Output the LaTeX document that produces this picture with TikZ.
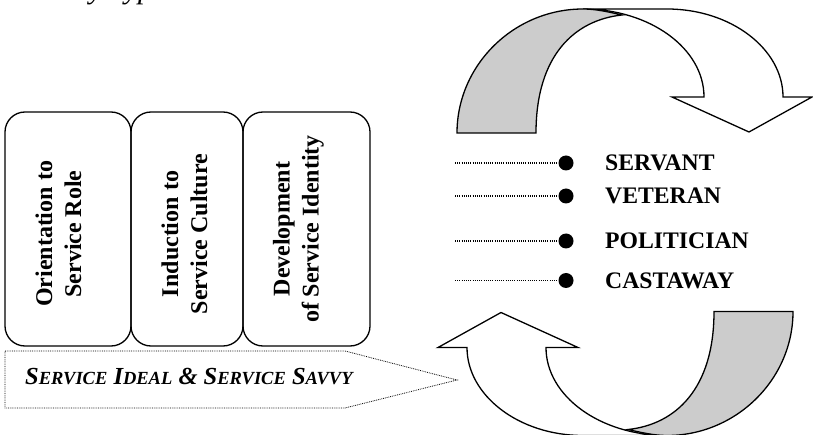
\documentclass[tikz,border=0pt]{standalone}
\usepackage{fontspec}
\setmainfont{Liberation Serif}
\definecolor{arrowgray}{HTML}{CCCCCC}
\newcommand\fakesc[2]{#1{\fontsize{18.5}{20}\selectfont #2}}
\newcommand\bentarrow{%
  \draw[arrowline, fill=white] (-51.5,-61.5) -- (32.5,-61.5)
     .. controls (96.5,-61.5) and (148.5,-21.5) .. (148.5,26.5)
     -- (177.5,26.5) -- (114.5,61.5) -- (37.5,26.5) -- (69.5,26.5)
     .. controls (69.5,-22.1) and (15.3,-61.5) .. cycle;
  \draw[arrowline, fill=arrowgray] (-177.5,62.5)
     .. controls (-177.5,-5.5) and (-120.5,-61.5) .. (-51.5,-61.5)
     .. controls (-38.5,-61.5) and (-25.5,-58.5) .. (-12.5,-55.5)
     .. controls (-59.5,-50.5) and (-98.5,-15.5) .. (-98.5,62.5) -- cycle;
}
\tikzset{
  arrowline/.style={line width=1.3pt, line join=miter},
  stagebox/.style={draw, line width=1.3pt, rounded corners=20pt, minimum height=234pt, inner sep=0pt},
  stagetext/.style={rotate=90, align=center, inner sep=0pt, font=\fontsize{24}{29}\selectfont\bfseries},
  rowdot/.style={circle, fill=black, inner sep=0pt, minimum size=15pt},
  rowline/.style={line width=1.1pt, dash pattern=on 1pt off 1.2pt},
  rowlabel/.style={anchor=base west, inner sep=0pt, font=\fontsize{23.7}{24}\selectfont\bfseries},
  idealline/.style={line width=0.8pt, dash pattern=on 0.8pt off 1pt},
}
\begin{document}
\begin{tikzpicture}[x=1pt,y=-1pt]
\useasboundingbox (0,0) rectangle (813,435);

% partial caption cut off at the top
\node[anchor=base west, inner sep=0pt, font=\fontsize{30}{30}\selectfont\itshape] (cap) at (11,-1.5) {Identity Types};

% stage boxes
\node[stagebox, minimum width=126pt] (b1) at (68,229) {};
\node[stagebox, minimum width=112pt] (b2) at (187,229) {};
\node[stagebox, minimum width=127pt] (b3) at (306.5,229) {};
\node[stagetext] (t1) at (58.5,234) {Orientation to\\Service Role};
\node[stagetext] (t2) at (184.5,234) {Induction to\\Service Culture};
\node[stagetext] (t3) at (298.5,229) {Development\\of Service Identity};

% dotted pentagon arrow
\draw[idealline] (5,351) -- (345,351) -- (457,380) -- (345,408) -- (5,408) -- cycle;
\node[anchor=base west, inner sep=0pt, font=\fontsize{24.5}{26}\selectfont\bfseries\itshape] (ideal) at (25,384)
  {\fakesc{S}{ERVICE} \fakesc{I}{DEAL} \& \fakesc{S}{ERVICE} \fakesc{S}{AVVY}};

% curved arrows
\begin{scope}[shift={(634.5,70.5)}]
  \bentarrow
\end{scope}
\begin{scope}[shift={(615.5,374)}, rotate=180]
  \bentarrow
\end{scope}

% rows
\coordinate (s0) at (455,163);
\coordinate (v0) at (455,196);
\coordinate (p0) at (455,241);
\coordinate (c0) at (455,280.5);
\node[rowdot] (sd) at (566,163) {};
\node[rowdot] (vd) at (566,196) {};
\node[rowdot] (pd) at (566,241) {};
\node[rowdot] (cd) at (566,280.5) {};
\draw[rowline] (s0) -- (sd);
\draw[rowline] (v0) -- (vd);
\draw[rowline] (p0) -- (pd);
\draw[rowline] (c0) -- (cd);
\node[rowlabel] (sl) at (605,171) {SERVANT};
\node[rowlabel] (vl) at (605,204) {VETERAN};
\node[rowlabel] (pl) at (605,249) {POLITICIAN};
\node[rowlabel] (cl) at (605,289) {CASTAWAY};
\end{tikzpicture}
\end{document}
